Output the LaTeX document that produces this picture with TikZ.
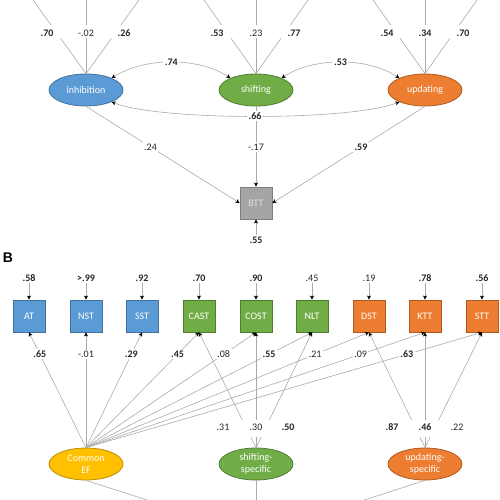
\documentclass[tikz,border=0pt]{standalone}
\usepackage{fontspec}
\setmainfont{Carlito}
\newfontfamily\arialfont{Liberation Sans}
\usetikzlibrary{shapes.geometric,arrows.meta,calc}
\definecolor{cblue}{HTML}{5B9BD5}\definecolor{dblue}{HTML}{41719C}
\definecolor{cgreen}{HTML}{70AD47}\definecolor{dgreen}{HTML}{507E32}
\definecolor{corange}{HTML}{ED7D31}\definecolor{dorange}{HTML}{AE5A21}
\definecolor{cgold}{HTML}{FFC000}\definecolor{dgold}{HTML}{BC8C00}
\definecolor{cgray}{HTML}{A5A5A5}\definecolor{dgray}{HTML}{7F7F7F}
\definecolor{lgray}{HTML}{AAAAAA}
\begin{document}
\begin{tikzpicture}[x=1pt,y=-1pt,
  font=\fontsize{10}{12}\selectfont,
  ln/.style={draw=lgray, line width=0.6pt},
  arr/.style={ln, -{Stealth[black,length=4pt,width=4pt,inset=1pt]}},
  dbl/.style={ln, {Stealth[black,length=4pt,width=4pt,inset=1pt]}-{Stealth[black,length=4pt,width=4pt,inset=1pt]}},
  fac/.style={ellipse, minimum width=74pt, minimum height=32pt, inner sep=0pt, text=white, align=center, line width=0.8pt, font=\fontsize{10}{11.5}\selectfont},
  obs/.style={rectangle, minimum width=32pt, minimum height=32pt, inner sep=0pt, text=white, line width=0.8pt},
  lb/.style={inner sep=1.5pt, fill=white, text=black!85},
  lbb/.style={lb, font=\fontsize{10}{12}\selectfont\bfseries},
]
\useasboundingbox (0,0) rectangle (500,500);
\clip (0,0) rectangle (500,500);

% ---------- Panel A ----------
\node[fac, fill=cblue, draw=dblue] (inh) at (86,90) {inhibition};
\node[fac, fill=cgreen, draw=dgreen] (shi) at (256,90) {shifting};
\node[fac, fill=corange, draw=dorange] (upd) at (425,90) {updating};
\node[obs, fill=cgray, draw=dgray, text=white!88!black] (btt) at (256,203) {BTT};

\coordinate (i1) at (33,0);  \coordinate (i2) at (86,0);  \coordinate (i3) at (139,0);
\coordinate (s1) at (204,0); \coordinate (s2) at (256,0); \coordinate (s3) at (308,0);
\coordinate (u1) at (373,0); \coordinate (u2) at (425,0); \coordinate (u3) at (477,0);
\foreach \s/\t in {i1/inh,i2/inh,i3/inh,s1/shi,s2/shi,s3/shi,u1/upd,u2/upd,u3/upd}
  \draw[ln] (\s) -- ($(\s)!0.34!(\t.north)$) ($(\s)!0.52!(\t.north)$) -- (\t.north);

\node[lbb] (la1) at (47,33) {.70};
\node[lb]  (la2) at (86,33) {-.02};
\node[lbb] (la3) at (124,33) {.26};
\node[lbb] (la4) at (217,33) {.53};
\node[lb]  (la5) at (256,33) {.23};
\node[lbb] (la6) at (294,33) {.77};
\node[lbb] (la7) at (387,33) {.54};
\node[lbb] (la8) at (425,33) {.34};
\node[lbb] (la9) at (463,33) {.70};

\draw[dbl] (inh.25) .. controls (145,57) and (198,57) .. node[lbb]{.74} (shi.155);
\draw[dbl] (shi.25) .. controls (314,57) and (367,57) .. node[lbb]{.53} (upd.155);

\draw[arr] (shi.south) -- node[lb,pos=0.506]{-.17} (btt.north);
\draw[arr] (inh.south) -- node[lb,pos=0.42]{.24} (btt.west);
\draw[arr] (upd.south) -- node[lbb,pos=0.42]{.59} (btt.east);
\draw[dbl] (inh.-25) .. controls (160,121) and (350,121) .. node[lbb]{.66} (upd.-155);

\node[lbb] (r55) at (256,240) {.55};
\draw[arr] (r55.north) -- (btt.south);

% ---------- Panel B ----------
\node[font=\arialfont\fontsize{14}{16}\selectfont\bfseries, inner sep=0pt] (B) at (8,258) {B};

\foreach \n/\x/\f/\d/\r/\w in {AT/29/cblue/dblue/.58/b, NST/86/cblue/dblue/>.99/b, SST/142/cblue/dblue/.92/b,
    CAST/199/cgreen/dgreen/.70/b, COST/256/cgreen/dgreen/.90/b, NLT/312/cgreen/dgreen/.45/n,
    DST/369/corange/dorange/.19/n, KTT/425/corange/dorange/.78/b, STT/482/corange/dorange/.56/b}{
  \node[obs, fill=\f, draw=\d] (\n) at (\x,316) {\n};
  \if b\w
    \node[lbb] (r\n) at (\x,278) {\r};
  \else
    \node[lb] (r\n) at (\x,278) {\r};
  \fi
  \draw[arr] (r\n.south) -- (\n.north);
}

\node[fac, fill=cgold, draw=dgold] (cef) at (86,464) {Common\\EF};
\node[fac, fill=cgreen, draw=dgreen] (ss) at (256,464) {shifting-\\specific};
\node[fac, fill=corange, draw=dorange] (us) at (425,464) {updating-\\specific};

\foreach \n/\v/\w in {AT/.65/b, NST/-.01/n, SST/.29/b, CAST/.45/b, COST/.08/n, NLT/.55/b, DST/.21/n, KTT/.09/n, STT/.63/b}{
  \if b\w
    \draw[arr] (cef.north) -- node[lbb,pos=0.81]{\v} (\n.south);
  \else
    \draw[arr] (cef.north) -- node[lb,pos=0.81]{\v} (\n.south);
  \fi
}

\foreach \f/\n in {ss/CAST, ss/COST, ss/NLT, us/DST, us/KTT, us/STT}{
  \draw[ln] (\f.north) -- ($(\f.north)!0.09!(\n.south)$);
  \draw[arr] ($(\f.north)!0.24!(\n.south)$) -- (\n.south);
}
\node[lb]  (l31) at (223,427) {.31};
\node[lb]  (l30) at (256,427) {.30};
\node[lbb] (l50) at (288,427) {.50};
\node[lbb] (l87) at (392,427) {.87};
\node[lbb] (l46) at (425,427) {.46};
\node[lb]  (l22) at (457,427) {.22};

\coordinate (outc) at (256,535);
\draw[ln] (cef.south) -- (outc);
\draw[ln] (ss.south) -- (outc);
\draw[ln] (us.south) -- (outc);
\end{tikzpicture}
\end{document}
